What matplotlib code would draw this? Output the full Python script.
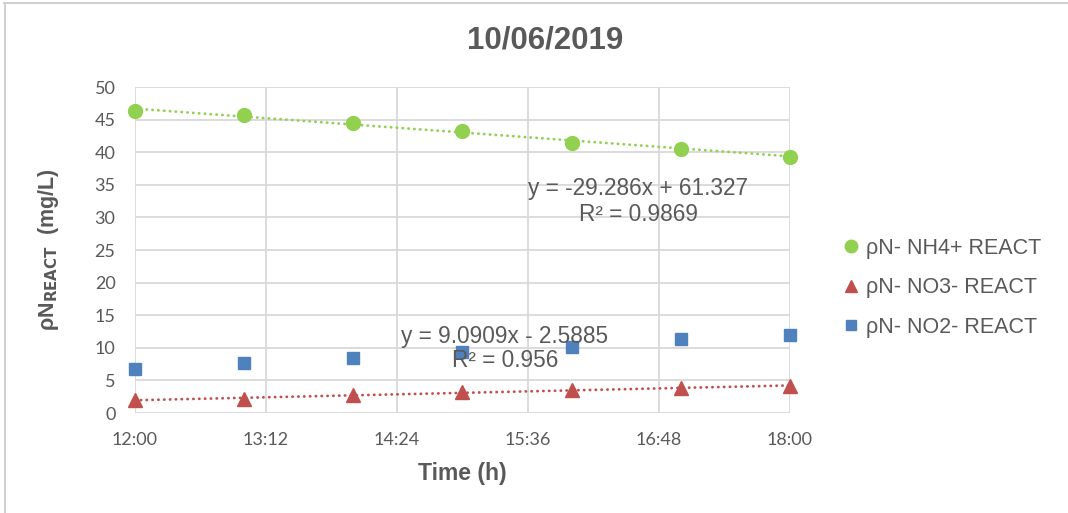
import matplotlib
matplotlib.use("Agg")
import matplotlib.pyplot as plt
from matplotlib.lines import Line2D
import numpy as np

# Sampling times (hours of the day) and measured concentrations (mg/L)
hours = [12, 13, 14, 15, 16, 17, 18]
nh4 = [46.3, 45.7, 44.5, 43.2, 41.4, 40.5, 39.3]
no3 = [2.0, 2.2, 2.7, 3.2, 3.5, 3.9, 4.1]
no2 = [6.8, 7.7, 8.5, 9.4, 10.2, 11.3, 12.0]

# Linear trend fits (x in fraction of a day)
nh4_fit = (-29.286, 61.327, 0.9869)
no3_fit = (9.0909, -2.5885, 0.956)

tick_labels = ["12:00", "13:12", "14:24", "15:36", "16:48", "18:00"]
series_names = ["ρN- NH4+ REACT", "ρN- NO3- REACT", "ρN- NO2- REACT"]
title = "10/06/2019"

GREEN = "#92D050"
RED = "#C0504D"
BLUE = "#4F81BD"
TXT = "#595959"
GRID = "#D9D9D9"

plt.rcParams["font.family"] = ["Liberation Sans", "DejaVu Sans"]

fig = plt.figure(figsize=(10.68, 5.13), dpi=100)
ax = fig.add_axes([0.1264, 0.1949, 0.6133, 0.6355])

x = np.array(hours) / 24.0

ax.set_xlim(0.5, 0.75)
ax.set_ylim(0, 50)
ax.set_xticks(np.linspace(0.5, 0.75, len(tick_labels)))
ax.set_xticklabels(tick_labels)
ax.set_yticks(np.arange(0, 51, 5))
ax.grid(True, color=GRID, linewidth=1.3)
ax.set_axisbelow(True)
for s in ax.spines.values():
    s.set_visible(False)
ax.tick_params(length=0, colors=TXT, pad=14)
for lbl in ax.get_xticklabels() + ax.get_yticklabels():
    lbl.set_family(["Lato", "DejaVu Sans"])
    lbl.set_fontsize(13)

# Trend lines drawn from their stated equations
xl = np.array([0.5, 0.75])
dots = (0, (0.1, 2.0))
ax.plot(xl, nh4_fit[0] * xl + nh4_fit[1], color=GREEN, lw=2.0,
        linestyle=dots, dash_capstyle="round", zorder=2)
ax.plot(xl, no3_fit[0] * xl + no3_fit[1], color=RED, lw=2.0,
        linestyle=dots, dash_capstyle="round", zorder=2)

ax.plot(x, nh4, "o", color=GREEN, ms=10, mec=GREEN, clip_on=False, zorder=3)
ax.plot(x, no3, "^", color=RED, ms=10, mec=RED, clip_on=False, zorder=3)
ax.plot(x, no2, "s", color=BLUE, ms=8, mec=BLUE, clip_on=False, zorder=3)

# Trend-line annotations
eq_size = 16.3
ax.text(0.692, 34.4, f"y = {nh4_fit[0]}x + {nh4_fit[1]}", ha="center",
        va="center", fontsize=eq_size, color=TXT, zorder=4)
ax.text(0.692, 30.4, f"R² = {nh4_fit[2]}", ha="center", va="center",
        fontsize=eq_size, color=TXT, zorder=4)
ax.text(0.6412, 11.8, f"y = {no3_fit[0]}x - {abs(no3_fit[1])}", ha="center",
        va="center", fontsize=eq_size, color=TXT, zorder=4)
ax.text(0.6412, 8.0, f"R² = {no3_fit[2]}", ha="center", va="center",
        fontsize=eq_size, color=TXT, zorder=4)

ax.set_xlabel("Time (h)", fontsize=16.5, fontweight="bold", color=TXT, labelpad=10)
ax.set_ylabel(r"ρN$_{\mathbf{REACT}}$  (mg/L)", fontsize=15.5, fontweight="bold",
              color=TXT, labelpad=24)
fig.text(0.510, 0.921, title, ha="center", va="center", fontsize=22.5,
         fontweight="bold", color=TXT)

handles = [
    Line2D([], [], marker="o", ls="none", color=GREEN, ms=9),
    Line2D([], [], marker="^", ls="none", color=RED, ms=9),
    Line2D([], [], marker="s", ls="none", color=BLUE, ms=7),
]
fig.legend(handles, series_names, loc="center left", bbox_to_anchor=(0.781, 0.439),
           frameon=False, fontsize=15.5, labelcolor=TXT, handlelength=0.8,
           handletextpad=0.3, labelspacing=0.85, borderaxespad=0)

# Chart border (top and left edges)
fig.add_artist(Line2D([0.004, 1.0], [0.994, 0.994], color="#D0D0D0", lw=1.5,
                      transform=fig.transFigure))
fig.add_artist(Line2D([0.005, 0.005], [0.0, 0.994], color="#D0D0D0", lw=1.5,
                      transform=fig.transFigure))

fig.savefig("out.png", dpi=100, facecolor="white")
